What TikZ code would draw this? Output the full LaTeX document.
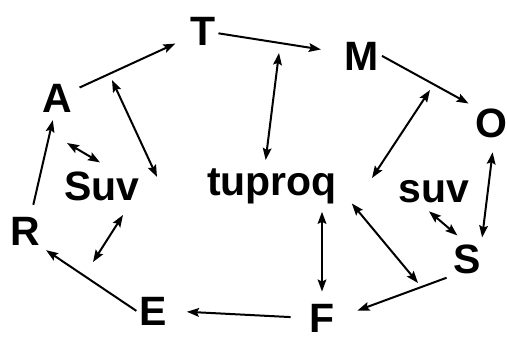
\documentclass[tikz,border=0pt]{standalone}
\usepackage{fontspec}
\setsansfont{Liberation Sans}
\usetikzlibrary{arrows.meta}

\begin{document}
\begin{tikzpicture}[
    x=0.75pt, y=-0.75pt,
    every node/.style={font=\sffamily\bfseries\fontsize{30.75}{36}\selectfont,
                       inner sep=2pt, anchor=base},
    link/.style={-{Stealth[length=9pt, width=6.5pt, inset=1.5pt]}, line width=1.5pt},
    both/.style={{Stealth[length=9pt, width=6.5pt, inset=1.5pt]}-{Stealth[length=9pt, width=6.5pt, inset=1.5pt]},
                 line width=1.5pt},
]

\useasboundingbox (0,0) rectangle (507,339);

% ---------------------------------------------------------------- ring letters
\node (A) at (57,112) {A};
\node (T) at (203,45) {T};
\node (M) at (362,70) {M};
\node (O) at (491,137) {O};
\node (S) at (467,273) {S};
\node (F) at (322,332) {F};
\node (E) at (153,325) {E};
\node (R) at (25,245) {R};

% ---------------------------------------------------------------- inner words
\node (Suv)    at (102,200) {Suv};
\node (tuproq) at (272,195) {tuproq};
\node (suv)    at (434,202) {suv};

% free ends, just off the ring arrows
\coordinate (tm) at (279,53);
\coordinate (mo) at (430,90);
\coordinate (tr) at (372,178);
\coordinate (sf) at (418,283);
\coordinate (at) at (112,80);
\coordinate (sv) at (157,177);
\coordinate (as) at (67,143);
\coordinate (sb) at (123,215);
\coordinate (er) at (93,262);

% ---------------------------------------------------------------- ring
\draw[link, shorten <=4pt, shorten >=10pt] (A) -- (T);
\draw[link, shorten >=16pt] (T) -- (M);
\draw[link, shorten >=3pt] (M.east) -- (O.north west);
\draw[both, shorten <=9pt, shorten >=3pt] (O.-80) -- (S.50);
\draw[link, shorten <=3pt, shorten >=16pt] (S.south west) -- (F.east);
\draw[link, shorten <=12pt, shorten >=13pt] (F.west) -- (E.east);
\draw[link, shorten >=3pt] (E.west) -- (R.south east);
\draw[link, shorten <=7pt, shorten >=4pt] (R.70) -- (A.-100);

% ---------------------------------------------------------------- inner exchanges
\draw[both, shorten >=4pt] (tm) -- ([shift={(-7,0)}]tuproq.north);
\draw[both] (mo) -- (tr);
\draw[both] ([shift={(12,-3)}]tuproq.south east) -- (sf);
\draw[both, shorten <=4pt, shorten >=7pt] (F.north |- tuproq.south) -- (F.north);
\draw[both] ([shift={(-5,6)}]suv.south) -- ([shift={(7,-6)}]S.north west);
\draw[both] (as) -- ([shift={(-2,-6)}]Suv.north);
\draw[both] (at) -- (sv);
\draw[both] (sb) -- (er);

\end{tikzpicture}
\end{document}
